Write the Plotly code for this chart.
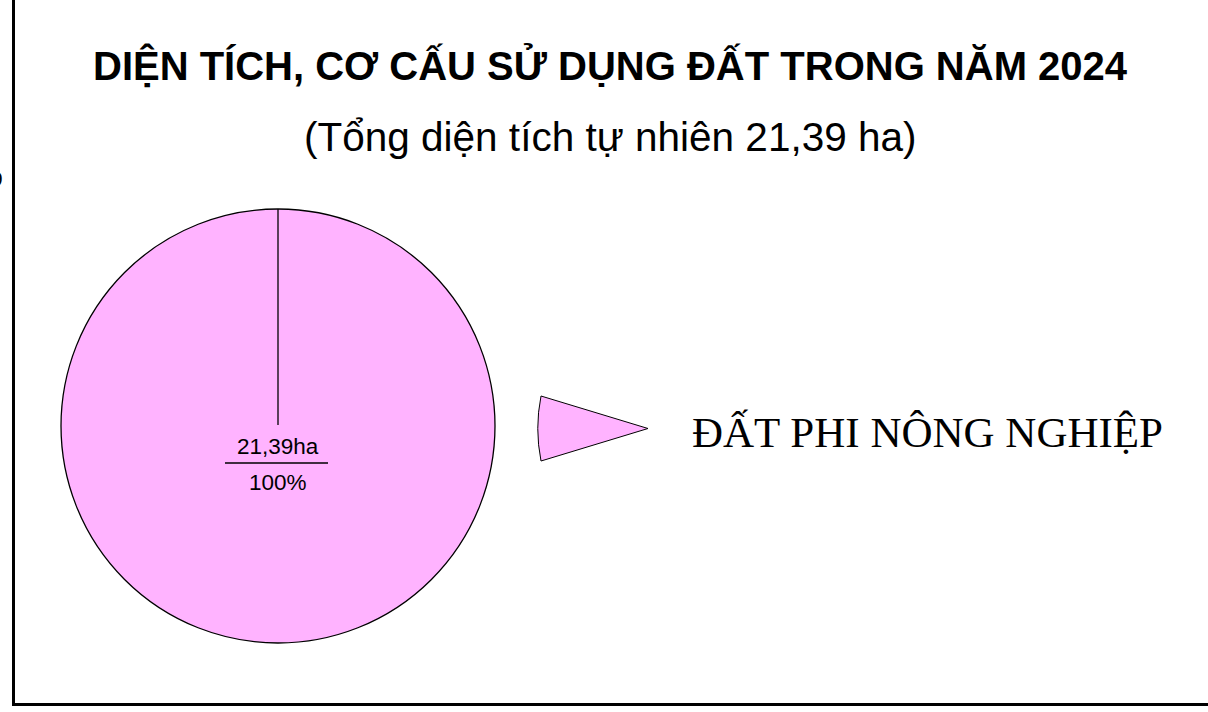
import plotly.graph_objects as go

# ---- data ----
categories = ["ĐẤT PHI NÔNG NGHIỆP"]
areas_ha = [21.39]
total_ha = 21.39
title_text = "DIỆN TÍCH, CƠ CẤU SỬ DỤNG ĐẤT TRONG NĂM 2024"
subtitle_text = "(Tổng diện tích tự nhiên 21,39 ha)"
colors = ["#FFB3FF"]

W, H = 1208, 712


def px(x):
    return x / W


def py(y):
    return 1 - y / H


def vn(v):
    return f"{v:.2f}".replace(".", ",")


cx, cy, r = 278, 426, 217

fig = go.Figure()
fig.add_trace(go.Pie(
    labels=categories,
    values=areas_ha,
    marker=dict(colors=colors, line=dict(color="black", width=1.3)),
    textinfo="none",
    hoverinfo="label+value+percent",
    sort=False,
    direction="clockwise",
    rotation=0,
    showlegend=False,
    domain=dict(x=[px(cx - r), px(cx + r)], y=[py(cy + r), py(cy - r)]),
))

shapes = []
# slice boundary line (12 o'clock)
shapes.append(dict(type="line", xref="paper", yref="paper",
                   x0=px(cx), x1=px(cx), y0=py(cy - r), y1=py(cy - 1),
                   line=dict(color="black", width=1.3)))
# label separator
shapes.append(dict(type="line", xref="paper", yref="paper",
                   x0=px(225), x1=px(328), y0=py(463), y1=py(463),
                   line=dict(color="black", width=1.3)))
# frame (left and bottom)
shapes.append(dict(type="line", xref="paper", yref="paper",
                   x0=px(13.5), x1=px(13.5), y0=py(-5), y1=py(705),
                   line=dict(color="black", width=3)))
shapes.append(dict(type="line", xref="paper", yref="paper",
                   x0=px(12), x1=px(1215), y0=py(704.5), y1=py(704.5),
                   line=dict(color="black", width=3)))
# legend wedge icon
pts = [(541, 396), (648, 428.5), (541, 461)]
path = (f"M {px(pts[0][0])},{py(pts[0][1])} L {px(pts[1][0])},{py(pts[1][1])} "
        f"L {px(pts[2][0])},{py(pts[2][1])} Q {px(534.5)},{py(428.5)} {px(pts[0][0])},{py(pts[0][1])} Z")
shapes.append(dict(type="path", xref="paper", yref="paper", path=path,
                   fillcolor=colors[0], line=dict(color="black", width=1)))

pct = areas_ha[0] / total_ha * 100
annotations = [
    dict(text=f"<b>{title_text}</b>", x=px(611), y=py(65), xref="paper", yref="paper",
         showarrow=False, xanchor="center", yanchor="middle",
         font=dict(family="Liberation Sans, Arial", size=40, color="black")),
    dict(text=subtitle_text, x=px(611), y=py(137), xref="paper", yref="paper",
         showarrow=False, xanchor="center", yanchor="middle",
         font=dict(family="Liberation Sans, Arial", size=40.5, color="black")),
    dict(text=f"{vn(areas_ha[0])}ha", x=px(cx), y=py(446), xref="paper", yref="paper",
         showarrow=False, xanchor="center", yanchor="middle",
         font=dict(family="Liberation Sans, Arial", size=22.5, color="black")),
    dict(text=f"{pct:.0f}%", x=px(cx), y=py(482), xref="paper", yref="paper",
         showarrow=False, xanchor="center", yanchor="middle",
         font=dict(family="Liberation Sans, Arial", size=22.5, color="black")),
    dict(text=categories[0], x=px(690), y=py(432), xref="paper", yref="paper",
         showarrow=False, xanchor="left", yanchor="middle",
         font=dict(family="Liberation Serif, Times New Roman", size=43, color="black")),
    dict(text="9", x=px(5), y=py(178), xref="paper", yref="paper",
         showarrow=False, xanchor="right", yanchor="middle",
         font=dict(family="Liberation Sans, Arial", size=21, color="black")),
]

fig.update_layout(
    width=W, height=H,
    margin=dict(l=0, r=0, t=0, b=0),
    paper_bgcolor="white", plot_bgcolor="white",
    shapes=shapes, annotations=annotations,
    showlegend=False,
)

fig.write_html("out.html", config={"displayModeBar": False},
               post_script="document.body.style.margin='0';document.body.style.overflow='hidden';")
